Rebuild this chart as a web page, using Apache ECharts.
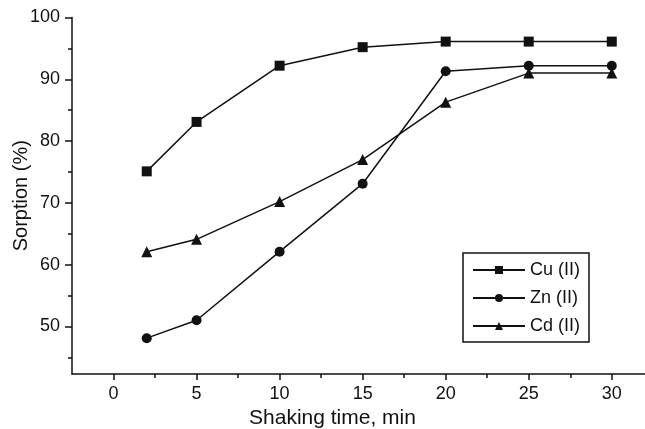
<!DOCTYPE html>
<html>
<head>
<meta charset="utf-8">
<script src="https://cdn.jsdelivr.net/npm/echarts@6/dist/echarts.min.js"></script>
<style>
  html, body { margin: 0; padding: 0; background: #fff; }
  #chart { width: 645px; height: 429px; }
</style>
</head>
<body>
<div id="chart"></div>
<script>
// shaking time (min)
const times = [2, 5, 10, 15, 20, 25, 30]
// sorption (%)
const cuValues = [75.1, 83.1, 92.2, 95.2, 96.1, 96.1, 96.1]
const znValues = [48.1, 51.0, 62.1, 73.1, 91.3, 92.2, 92.2]
const cdValues = [62.1, 64.1, 70.2, 77.0, 86.3, 91.0, 91.0]

const xMajorTicks = [0, 5, 10, 15, 20, 25, 30]
const xMinorTicks = [2.5, 7.5, 12.5, 17.5, 22.5, 27.5]
const yMajorTicks = [50, 60, 70, 80, 90, 100]
const yMinorTicks = [45, 55, 65, 75, 85, 95]

const font = 'Liberation Sans, Arial, sans-serif'
const ink = '#111'

let chart = echarts.init(document.getElementById('chart'))

function pairs (ys) {
  return times.map((t, i) => [t, ys[i]])
}

function lineSeries (name, symbol, size, ys) {
  return {
    name: name,
    type: 'line',
    symbol: symbol,
    symbolSize: size,
    lineStyle: { color: ink, width: 1.5 },
    itemStyle: { color: ink },
    data: pairs(ys)
  }
}

let xBase = {
  type: 'value',
  min: -2.5,
  max: 32,
  position: 'bottom',
  splitLine: { show: false }
}
let yBase = {
  type: 'value',
  min: 42.3,
  max: 100,
  position: 'left',
  splitLine: { show: false }
}

let option = {
  backgroundColor: '#fff',
  animation: false,
  grid: { left: 72, right: 0, top: 17.5, bottom: 55, containLabel: false, outerBoundsMode: 'none' },
  legend: {
    orient: 'vertical',
    left: 463,
    top: 253,
    padding: [8, 9, 7, 9],
    borderColor: ink,
    borderWidth: 1.5,
    itemWidth: 52,
    itemHeight: 10,
    itemGap: 10,
    textStyle: { fontFamily: font, fontSize: 18, color: ink, lineHeight: 18 },
    data: ['Cu (II)', 'Zn (II)', 'Cd (II)']
  },
  xAxis: [
    Object.assign({}, xBase, {
      name: 'Shaking time, min',
      nameLocation: 'middle',
      nameGap: 31,
      nameTextStyle: { fontFamily: font, fontSize: 21, color: ink, padding: [0, 52, 0, 0] },
      axisLine: { onZero: false, lineStyle: { color: ink, width: 1.5 } },
      axisTick: { customValues: xMajorTicks, length: 6, lineStyle: { color: ink, width: 1.5 } },
      axisLabel: { customValues: xMajorTicks, margin: 11, fontFamily: font, fontSize: 18, color: ink }
    }),
    Object.assign({}, xBase, {
      axisLine: { show: false, onZero: false },
      axisTick: { customValues: xMinorTicks, length: 4, lineStyle: { color: ink, width: 1.5 } },
      axisLabel: { show: false }
    })
  ],
  yAxis: [
    Object.assign({}, yBase, {
      name: 'Sorption (%)',
      nameLocation: 'middle',
      nameGap: 41,
      nameMoveOverlap: false,
      nameTextStyle: { fontFamily: font, fontSize: 20, color: ink },
      axisLine: { show: true, onZero: false, lineStyle: { color: ink, width: 1.5 } },
      axisTick: { show: true, customValues: yMajorTicks, length: 7, lineStyle: { color: ink, width: 1.5 } },
      axisLabel: { customValues: yMajorTicks, margin: 12, fontFamily: font, fontSize: 18, color: ink }
    }),
    Object.assign({}, yBase, {
      axisLine: { show: false, onZero: false },
      axisTick: { show: true, customValues: yMinorTicks, length: 4, lineStyle: { color: ink, width: 1.5 } },
      axisLabel: { show: false }
    })
  ],
  series: [
    lineSeries('Cu (II)', 'rect', 10, cuValues),
    lineSeries('Zn (II)', 'circle', 10, znValues),
    lineSeries('Cd (II)', 'triangle', 11, cdValues)
  ]
}
chart.setOption(option)
</script>
</body>
</html>
